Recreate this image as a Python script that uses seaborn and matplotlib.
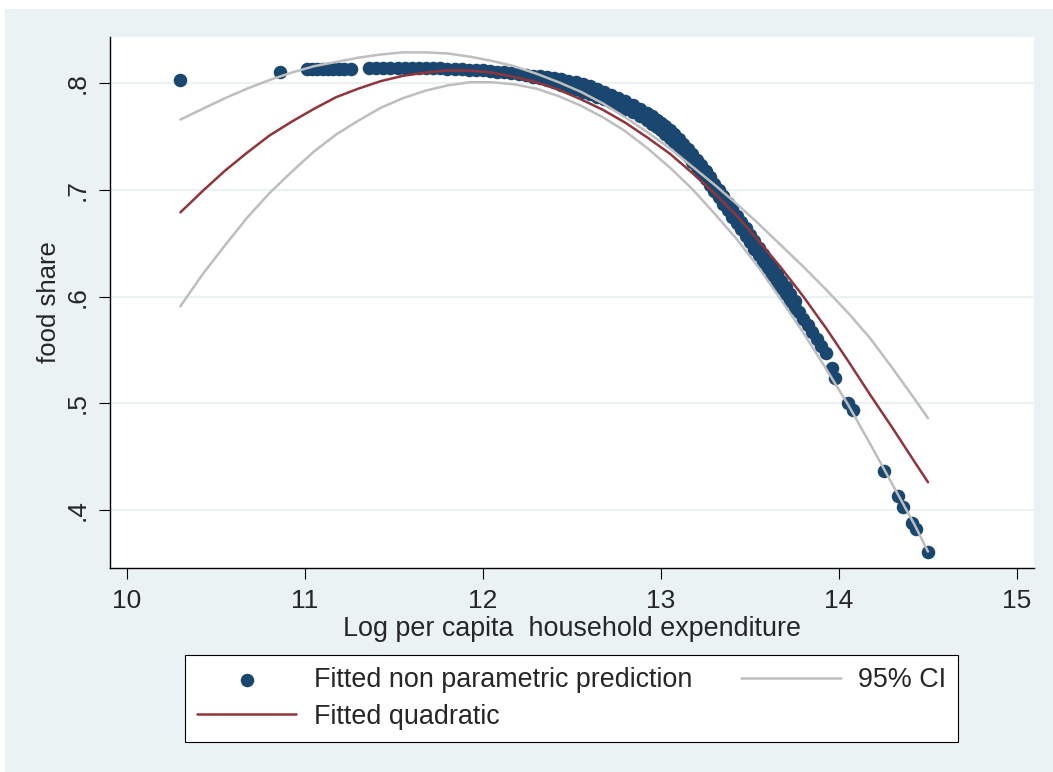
import matplotlib
matplotlib.use("Agg")
import matplotlib.pyplot as plt
import numpy as np
import pandas as pd
import seaborn as sns
from matplotlib.patches import Rectangle

# Fitted non parametric prediction
np_x = [10.30, 10.86,
        11.01, 11.04, 11.07, 11.10, 11.13, 11.16, 11.19, 11.22, 11.26,
        11.36, 11.40, 11.44, 11.48, 11.52, 11.56, 11.60, 11.64, 11.68, 11.72,
        11.76, 11.80, 11.84, 11.88, 11.92, 11.96, 12.00, 12.04, 12.08, 12.12,
        12.16, 12.20, 12.24, 12.28, 12.32, 12.36, 12.40, 12.44, 12.48, 12.52,
        12.56, 12.60, 12.64, 12.68, 12.72, 12.76, 12.80, 12.84, 12.88, 12.92,
        12.950, 12.975, 13.000, 13.025, 13.050, 13.075, 13.100, 13.125, 13.150,
        13.175, 13.200, 13.225, 13.250, 13.275, 13.300, 13.325, 13.350, 13.375,
        13.400, 13.425, 13.450, 13.475, 13.500, 13.525, 13.550, 13.575, 13.600,
        13.625, 13.650, 13.675, 13.700, 13.725, 13.750, 13.775, 13.800, 13.825,
        13.850, 13.875, 13.900, 13.925,
        13.96, 13.98, 14.05, 14.08, 14.25, 14.33, 14.36, 14.41, 14.43, 14.50]
np_y = [0.803, 0.811,
        0.8133, 0.8134, 0.8135, 0.8136, 0.8136, 0.8137, 0.8137, 0.8138, 0.8138,
        0.8140, 0.8142, 0.8143, 0.8144, 0.8145, 0.8145, 0.8145, 0.8144, 0.8143, 0.8142,
        0.8140, 0.8138, 0.8135, 0.8132, 0.8129, 0.8125, 0.8120, 0.8115, 0.8110, 0.8103,
        0.8096, 0.8088, 0.8079, 0.8073, 0.8066, 0.8058, 0.8049, 0.8038, 0.8026, 0.8012,
        0.7992, 0.7970, 0.7946, 0.7921, 0.7893, 0.7864, 0.7833, 0.7799, 0.7763, 0.7725,
        0.7690, 0.7660, 0.7630, 0.7595, 0.7560, 0.7520, 0.7480, 0.7435, 0.7385,
        0.7335, 0.7285, 0.7230, 0.7175, 0.7120, 0.7060, 0.7000, 0.6940, 0.6880,
        0.6820, 0.6760, 0.6700, 0.6640, 0.6580, 0.6520, 0.6460, 0.6395, 0.6335,
        0.6275, 0.6210, 0.6150, 0.6090, 0.6025, 0.5960, 0.5860, 0.5795, 0.5730,
        0.5665, 0.5600, 0.5535, 0.5475,
        0.533, 0.524, 0.500, 0.494, 0.437, 0.413, 0.403, 0.388, 0.382, 0.361]

# the band is thicker where it bends down: second row of predictions
np_x2 = [12.28, 12.32, 12.36, 12.40, 12.44, 12.48, 12.52, 12.56, 12.60, 12.64,
         12.68, 12.72, 12.76, 12.80, 12.84, 12.88, 12.92,
         12.950, 12.975, 13.000, 13.025, 13.050, 13.075, 13.100, 13.125, 13.150,
         13.175, 13.200, 13.225, 13.250, 13.275, 13.300, 13.325, 13.350, 13.375,
         13.400, 13.425, 13.450, 13.475, 13.500, 13.525, 13.550, 13.575, 13.600,
         13.625, 13.650, 13.675, 13.700, 13.725, 13.750]
np_y2 = [0.8063, 0.8046, 0.8028, 0.8009, 0.7988, 0.7966, 0.7942, 0.7922, 0.7900, 0.7876,
         0.7851, 0.7823, 0.7794, 0.7763, 0.7729, 0.7693, 0.7655,
         0.7620, 0.7590, 0.7560, 0.7525, 0.7490, 0.7450, 0.7410, 0.7365, 0.7315,
         0.7265, 0.7215, 0.7160, 0.7105, 0.7050, 0.6990, 0.6930, 0.6870, 0.6810,
         0.6750, 0.6690, 0.6630, 0.6570, 0.6510, 0.6450, 0.6390, 0.6325, 0.6265,
         0.6205, 0.6140, 0.6080, 0.6020, 0.5955, 0.5890]

# Fitted quadratic and its 95% CI
fit_x = [10.300, 10.425, 10.550, 10.675, 10.800, 10.925, 11.050, 11.175, 11.300,
         11.425, 11.550, 11.675, 11.800, 11.925, 12.050, 12.175, 12.300, 12.425,
         12.550, 12.675, 12.800, 12.925, 13.050, 13.175, 13.300, 13.425, 13.550,
         13.675, 13.800, 13.925, 14.050, 14.175, 14.300, 14.425, 14.500]
quad_y = [0.679, 0.699, 0.718, 0.735, 0.751, 0.764, 0.776, 0.787, 0.795,
          0.802, 0.807, 0.810, 0.812, 0.812, 0.810, 0.806, 0.801, 0.794,
          0.785, 0.775, 0.763, 0.749, 0.734, 0.716, 0.697, 0.676, 0.652,
          0.627, 0.600, 0.571, 0.540, 0.508, 0.477, 0.445, 0.426]
ci_hi = [0.766, 0.776, 0.786, 0.795, 0.803, 0.810, 0.816, 0.820, 0.824,
         0.827, 0.829, 0.829, 0.828, 0.825, 0.821, 0.816, 0.809, 0.801,
         0.792, 0.781, 0.768, 0.754, 0.739, 0.722, 0.705, 0.687, 0.668,
         0.648, 0.628, 0.607, 0.585, 0.561, 0.533, 0.504, 0.486]
ci_lo = [0.591, 0.621, 0.648, 0.674, 0.697, 0.717, 0.736, 0.752, 0.765,
         0.777, 0.786, 0.793, 0.798, 0.801, 0.801, 0.799, 0.795, 0.788,
         0.779, 0.768, 0.755, 0.739, 0.721, 0.701, 0.678, 0.654, 0.627,
         0.597, 0.566, 0.533, 0.499, 0.462, 0.424, 0.386, 0.361]

x_ticks = [10, 11, 12, 13, 14, 15]
y_ticks = [0.4, 0.5, 0.6, 0.7, 0.8]
y_ticklabels = [".4", ".5", ".6", ".7", ".8"]

navy = "#1A476F"
maroon = "#90353B"
grey = "#BEBEBE"
bg = "#EAF2F3"

sns.set_style("white")
plt.rcParams["font.family"] = ["Liberation Sans", "DejaVu Sans"]

fig = plt.figure(figsize=(10.53, 7.72), dpi=100, facecolor="white")
fig.patches.append(Rectangle((5 / 1053, 0), 1, 1 - 9 / 772, transform=fig.transFigure,
                             facecolor=bg, edgecolor="none", zorder=-10))
ax = fig.add_axes([110 / 1053, 1 - 568 / 772, (1034 - 110) / 1053, (568 - 37) / 772])
ax.set_zorder(1)
ax.set_facecolor("white")

df_np = pd.DataFrame({"x": np_x + np_x2, "y": np_y + np_y2})
df_fit = pd.DataFrame({"x": fit_x, "quad": quad_y, "hi": ci_hi, "lo": ci_lo})

sns.scatterplot(data=df_np, x="x", y="y", ax=ax, s=95, color=navy, linewidth=0,
                label="Fitted non parametric prediction", zorder=3)
sns.lineplot(data=df_fit, x="x", y="quad", ax=ax, color=maroon, lw=1.8,
             label="Fitted quadratic", zorder=4)
sns.lineplot(data=df_fit, x="x", y="hi", ax=ax, color=grey, lw=1.8,
             label="95% CI", zorder=4)
sns.lineplot(data=df_fit, x="x", y="lo", ax=ax, color=grey, lw=1.8, zorder=4)

ax.set_xlim(9.9045, 15.0955)
ax.set_ylim(0.3456, 0.8434)
ax.set_xticks(x_ticks)
ax.set_xticklabels([str(t) for t in x_ticks])
ax.set_yticks(y_ticks)
ax.set_yticklabels(y_ticklabels, rotation=90, va="center")
ax.yaxis.grid(True, color=bg, lw=1.5)
ax.set_axisbelow(True)

for side in ["top", "right"]:
    ax.spines[side].set_visible(False)
for side in ["left", "bottom"]:
    ax.spines[side].set_color("black")
    ax.spines[side].set_linewidth(1.0)
ax.tick_params(axis="both", direction="out", length=8, width=0.8, color="black",
               labelsize=19, pad=7, bottom=True, left=True)

ax.set_xlabel("Log per capita  household expenditure", fontsize=19.4, labelpad=2)
ax.set_ylabel("food share", fontsize=18.5, labelpad=3)

handles, labels = ax.get_legend_handles_labels()
ax.legend(handles, labels, ncol=2, loc="center", bbox_to_anchor=(0.5427, 0.0952),
          bbox_transform=fig.transFigure, fontsize=19.4, frameon=True, fancybox=False,
          edgecolor="black", facecolor="white", framealpha=1, handlelength=3.7,
          handletextpad=0.65, columnspacing=1.8, labelspacing=0.4, borderpad=0.45)
ax.get_legend().get_frame().set_linewidth(0.8)

fig.savefig("out.png", dpi=100, facecolor=fig.get_facecolor())
